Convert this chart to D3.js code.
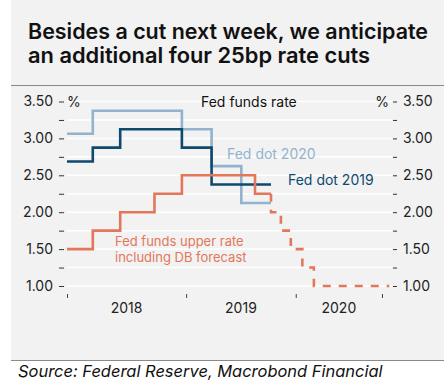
<!DOCTYPE html>
<html lang="en">
  <head>
    <meta charset="utf-8">
    <title>Fed funds rate</title>
    <script src="https://cdn.jsdelivr.net/npm/d3@7/dist/d3.min.js"></script>
    <style>
      body { margin: 0; background: #fff; }
      text { font-family: Inter, "Noto Sans", sans-serif; }
    </style>
  </head>
  <body>
    <svg width="447" height="383" id="mainsvg"></svg>
    <script>
      // data
      const fundsDates = ['2018-01-01', '2018-03-21', '2018-06-13', '2018-09-26', '2018-12-19', '2019-07-31', '2019-09-18'];
      const fundsValues = [1.50, 1.75, 2.00, 2.25, 2.50, 2.25, 2.25];
      const forecastDates = ['2019-09-18', '2019-09-18', '2019-10-30', '2019-12-11', '2020-01-29', '2020-03-18', '2021-02-01'];
      const forecastValues = [2.25, 2.00, 1.75, 1.50, 1.25, 1.00, 1.00];
      const dotDates = ['2018-01-01', '2018-03-21', '2018-06-13', '2018-09-26', '2018-12-19', '2019-03-20', '2019-06-19', '2019-09-18'];
      const dot2019 = [2.6875, 2.875, 3.125, 3.125, 2.875, 2.375, 2.375, 2.375];
      const dot2020 = [3.0625, 3.375, 3.375, 3.375, 3.125, 2.625, 2.125, 2.125];
      const yearTicks = ['2018-01-01', '2019-01-01', '2020-01-01', '2021-01-01'];
      const yearLabels = ['2018', '2019', '2020'];
      const yTicks = [1.00, 1.25, 1.50, 1.75, 2.00, 2.25, 2.50, 2.75, 3.00, 3.25, 3.50];

      const svg = d3.select('#mainsvg');
      const width = +svg.attr('width');
      const height = +svg.attr('height');
      const margin = { top: 101.5, right: 55, bottom: 97, left: 67 };
      const parse = d3.timeParse('%Y-%m-%d');

      const colLight = '#92b2cd';
      const colDark = '#0d4a6e';
      const colOrange = '#e2775a';

      // frame
      svg.append('rect').attr('x', 11).attr('y', 0).attr('width', 433).attr('height', 360).attr('fill', '#f2f2f2');
      svg.append('line').attr('x1', 11).attr('x2', 444).attr('y1', 85.5).attr('y2', 85.5).attr('stroke', '#8a8a8a');
      svg.append('line').attr('x1', 11).attr('x2', 444).attr('y1', 360.5).attr('y2', 360.5).attr('stroke', '#8a8a8a');

      // fit a text to a target width by its font size
      const fitText = (sel, target) => {
        const w = sel.node().getComputedTextLength();
        const fs = +sel.attr('font-size');
        sel.attr('font-size', (fs * target / w).toFixed(2));
      };

      fitText(svg.append('text').text('Besides a cut next week, we anticipate')
        .attr('x', 28).attr('y', 39).attr('font-size', 22).attr('font-weight', 600)
        .attr('fill', '#111'), 400);
      fitText(svg.append('text').text('an additional four 25bp rate cuts')
        .attr('x', 28).attr('y', 63).attr('font-size', 22).attr('font-weight', 600)
        .attr('fill', '#111'), 342);
      fitText(svg.append('text').text('Source: Federal Reserve, Macrobond Financial')
        .attr('x', 18).attr('y', 377).attr('font-size', 15).attr('font-style', 'italic')
        .attr('fill', '#111'), 365);

      // scales (x is piecewise: the forecast part is drawn compressed)
      const xScale = d3.scaleTime()
        .domain([parse('2018-01-01'), parse('2019-09-18'), parse('2021-01-01')])
        .range([0, 204, 315]);
      const yScale = d3.scaleLinear().domain([1, 3.5]).range([184.5, 0]);

      const g = svg.append('g')
        .attr('transform', `translate(${margin.left}, ${margin.top})`)
        .attr('id', 'maingroup');

      // grid
      g.selectAll('.grid').data(yTicks).enter().append('line')
        .attr('class', 'grid')
        .attr('x1', 0).attr('x2', 325)
        .attr('y1', d => yScale(d)).attr('y2', d => yScale(d))
        .attr('stroke', '#ffffff').attr('stroke-width', 1.5);

      const fmt = d => (Math.round(d * 100) % 50 === 0 ? d3.format('.2f')(d) : '');
      const yAxisL = d3.axisLeft(yScale).tickValues(yTicks).tickFormat(fmt).tickSize(5).tickPadding(6);
      const yAxisR = d3.axisRight(yScale).tickValues(yTicks).tickFormat(fmt).tickSize(4).tickPadding(6);

      const left = g.append('g').attr('transform', 'translate(-3, 0)').call(yAxisL);
      const right = g.append('g').attr('transform', 'translate(326, 0)').call(yAxisR);
      [left, right].forEach(a => {
        a.select('.domain').remove();
        a.selectAll('.tick line').attr('stroke', '#333');
        a.selectAll('.tick text').filter(function () { return this.textContent === ''; }).remove();
        a.selectAll('.tick text').attr('font-size', 14).attr('fill', '#222')
          .attr('font-family', 'Inter, sans-serif');
      });

      // x axis
      const xAxis = d3.axisBottom(xScale).tickValues(yearTicks.map(parse)).tickFormat('').tickSize(4);
      const xg = g.append('g').attr('transform', `translate(0, ${yScale(1) + 8})`).call(xAxis);
      xg.select('.domain').remove();
      xg.selectAll('.tick text').remove();
      xg.selectAll('.tick line').attr('stroke', '#444');
      yearLabels.forEach((lab, i) => {
        const mid = (xScale(parse(yearTicks[i])) + xScale(parse(yearTicks[i + 1]))) / 2;
        g.append('text').text(lab)
          .attr('x', mid).attr('y', yScale(1) + 27)
          .attr('text-anchor', 'middle').attr('font-size', 14)
          .attr('fill', '#222');
      });

      // lines
      const line = d3.line()
        .x(d => xScale(d.date))
        .y(d => yScale(d.value))
        .curve(d3.curveStepAfter);
      const toSeries = (dates, vals) => dates.map((d, i) => ({ date: parse(d), value: vals[i] }));

      const series = [
        { data: toSeries(dotDates, dot2020), color: colLight, dash: null },
        { data: toSeries(dotDates, dot2019), color: colDark, dash: null },
        { data: toSeries(fundsDates, fundsValues), color: colOrange, dash: null },
        { data: toSeries(forecastDates, forecastValues), color: colOrange, dash: '8,8' }
      ];
      g.selectAll('.series').data(series).enter().append('path')
        .attr('class', 'series')
        .attr('d', d => line(d.data))
        .attr('fill', 'none')
        .attr('stroke', d => d.color)
        .attr('stroke-width', 2.6)
        .attr('stroke-dasharray', d => d.dash);

      // labels
      g.append('text').text('%').attr('x', 0).attr('y', 5).attr('font-size', 14).attr('fill', '#222');
      g.append('text').text('%').attr('x', 322).attr('y', 5).attr('text-anchor', 'end').attr('font-size', 14).attr('fill', '#222');
      g.append('text').text('Fed funds rate').attr('x', 134).attr('y', 5).attr('font-size', 14).attr('fill', '#111');
      g.append('text').text('Fed dot 2020').attr('x', 160).attr('y', 57).attr('font-size', 14).attr('fill', colLight);
      g.append('text').text('Fed dot 2019').attr('x', 221).attr('y', 83).attr('font-size', 14).attr('fill', colDark);
      g.append('text').text('Fed funds upper rate').attr('x', 48).attr('y', 144).attr('font-size', 13).attr('fill', colOrange);
      g.append('text').text('including DB forecast').attr('x', 48).attr('y', 160).attr('font-size', 13).attr('fill', colOrange);
    </script>
  </body>
</html>
